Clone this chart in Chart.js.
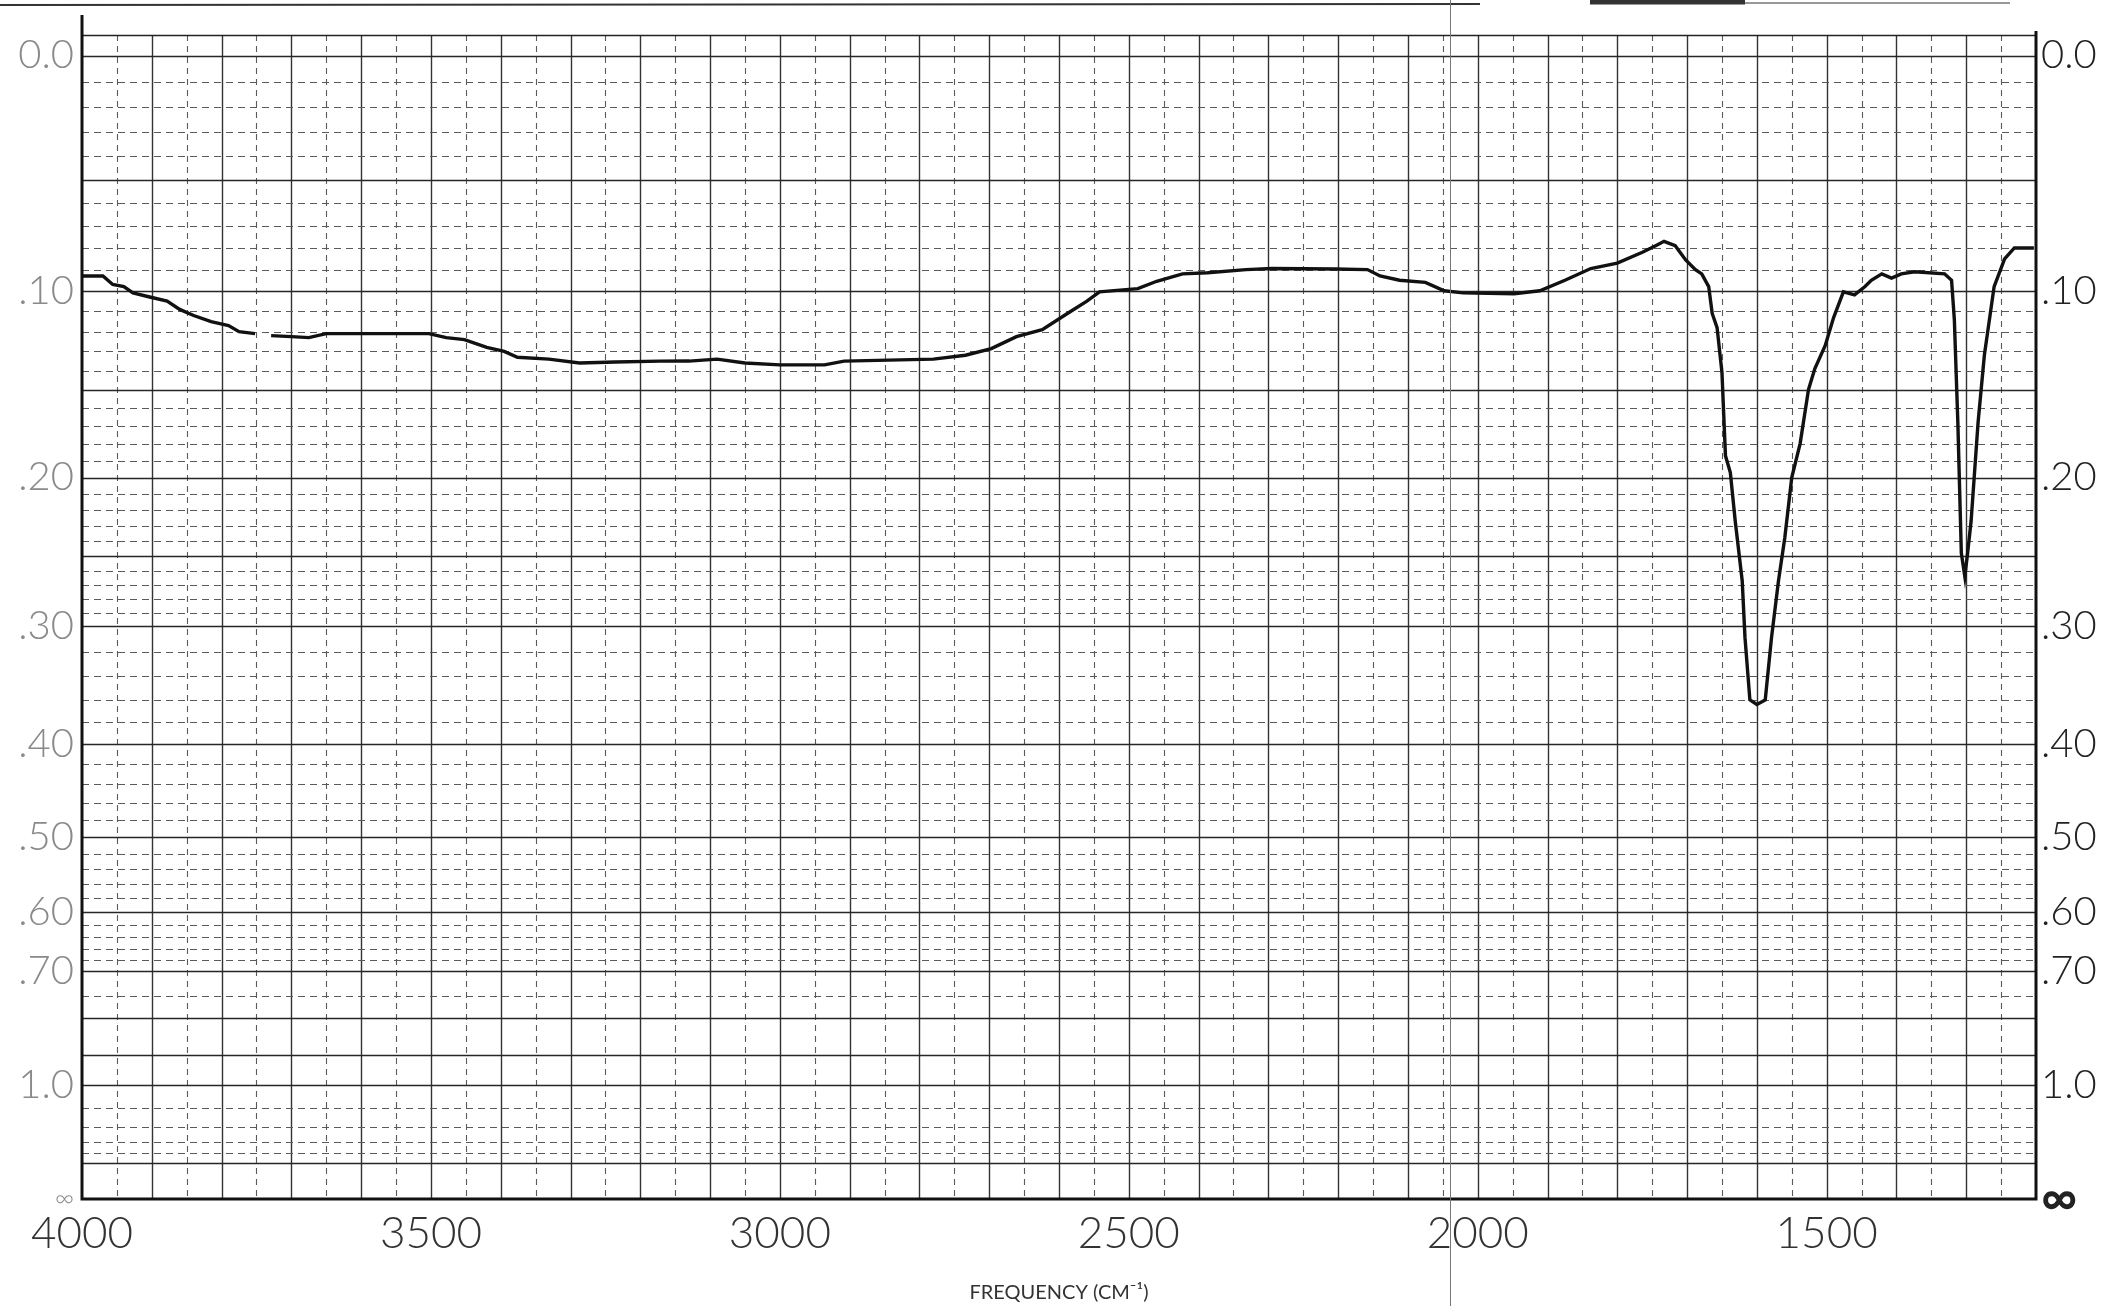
<!DOCTYPE html>
<html>
<head>
<meta charset="utf-8">
<title>IR spectrum</title>
<script src="https://cdn.jsdelivr.net/npm/chart.js@4.4.0/dist/chart.umd.min.js"></script>
<style>
  html, body { margin: 0; padding: 0; background: #fff; }
  #wrap { width: 2105px; height: 1306px; position: relative; }
</style>
</head>
<body>
<div id="wrap"><canvas id="irChart" width="2105" height="1306"></canvas></div>
<script>
// wavenumber (cm-1) and absorbance; null = gap in the pen trace
const wavenumbers = [
  4000, 3970, 3956, 3940, 3927, 3903, 3878, 3860, 3840, 3815, 3790, 3775, 3752, 3740,
  3729, 3700, 3675, 3650, 3600, 3550, 3503, 3478, 3452, 3420, 3395, 3376, 3331, 3287,
  3236, 3172, 3130, 3090, 3050, 3000, 2936, 2908, 2844, 2780, 2734, 2697, 2661, 2624,
  2588, 2560, 2542, 2487, 2460, 2423, 2387, 2332, 2295, 2204, 2158, 2140, 2112, 2075,
  2048, 2021, 1948, 1911, 1875, 1838, 1800, 1764, 1745, 1733, 1717, 1702, 1688, 1679,
  1669, 1664, 1657, 1650, 1645, 1638, 1631, 1621, 1617, 1610, 1600, 1588, 1579, 1569,
  1560, 1550, 1538, 1526, 1517, 1502, 1490, 1476, 1460, 1445, 1436, 1421, 1407, 1393,
  1374, 1331, 1321, 1317, 1312, 1307, 1302, 1298, 1293, 1283, 1274, 1260, 1245, 1231,
  1207, 1203
];
const absorbance = [
  0.093, 0.093, 0.097, 0.098, 0.101, 0.103, 0.105, 0.109, 0.112, 0.115, 0.117, 0.120, 0.121, null,
  0.122, 0.1225, 0.123, 0.121, 0.121, 0.121, 0.121, 0.123, 0.124, 0.128, 0.130, 0.133, 0.134, 0.136,
  0.1355, 0.135, 0.135, 0.134, 0.136, 0.137, 0.137, 0.135, 0.1345, 0.134, 0.132, 0.1286, 0.1225, 0.119,
  0.111, 0.105, 0.1005, 0.099, 0.0955, 0.092, 0.0915, 0.090, 0.0895, 0.0897, 0.090, 0.093, 0.095, 0.096,
  0.100, 0.101, 0.1014, 0.100, 0.095, 0.0895, 0.087, 0.082, 0.079, 0.077, 0.079, 0.0855, 0.090, 0.092,
  0.098, 0.111, 0.118, 0.141, 0.187, 0.197, 0.227, 0.267, 0.309, 0.360, 0.364, 0.360, 0.309, 0.267,
  0.238, 0.200, 0.180, 0.150, 0.139, 0.127, 0.113, 0.1005, 0.102, 0.098, 0.095, 0.092, 0.094, 0.092,
  0.091, 0.092, 0.095, 0.114, 0.168, 0.248, 0.264, 0.248, 0.227, 0.168, 0.132, 0.098, 0.085, 0.080,
  0.080, 0.080
];

const freqTicks = [4000, 3500, 3000, 2500, 2000, 1500];
const absTickValues = [0, 0.1, 0.2, 0.3, 0.4, 0.5, 0.6, 0.7, 1.0, Infinity];
const absTickLabels = ['0.0', '.10', '.20', '.30', '.40', '.50', '.60', '.70', '1.0', '\u221E'];

// chart paper rulings (absorbance, on a transmittance-linear axis)
const solidAbsLines = [0, 0.05, 0.10, 0.15, 0.20, 0.25, 0.30, 0.40, 0.50, 0.60, 0.70, 0.80, 0.90, 1.0, 1.5];
const dashedAbsLines = [];
for (let i = 1; i < 30; i++) if (i % 5 !== 0) dashedAbsLines.push(i / 100);
for (let a = 32; a < 70; a += 2) if (a % 10 !== 0) dashedAbsLines.push(a / 100);
dashedAbsLines.push(0.75, 1.1, 1.2, 1.3, 1.4);

const toT = a => (a === null ? null : Math.pow(10, -a));
const labelFont = 'Lato, "Liberation Sans", sans-serif';

const paperGrid = {
  id: 'paperGrid',
  beforeDatasetsDraw(chart) {
    const { ctx, chartArea: ca, scales: { x, y } } = chart;
    ctx.save();
    // vertical rulings every 50 cm-1
    for (let w = 1250; w < 4000; w += 50) {
      const px = Math.round(x.getPixelForValue(w)) + 0.5;
      const major = w % 100 === 0;
      ctx.beginPath();
      ctx.setLineDash(major ? [] : [6, 5]);
      ctx.lineWidth = major ? 1.4 : 1.1;
      ctx.strokeStyle = major ? '#333' : '#5a5a5a';
      ctx.moveTo(px, ca.top);
      ctx.lineTo(px, ca.bottom);
      ctx.stroke();
    }
    // horizontal dashed
    ctx.setLineDash([7, 5]);
    ctx.lineWidth = 1.1;
    ctx.strokeStyle = '#5a5a5a';
    dashedAbsLines.forEach(a => {
      const py = Math.round(y.getPixelForValue(toT(a))) + 0.5;
      ctx.beginPath();
      ctx.moveTo(ca.left, py);
      ctx.lineTo(ca.right, py);
      ctx.stroke();
    });
    // horizontal solid
    ctx.setLineDash([]);
    ctx.lineWidth = 1.7;
    ctx.strokeStyle = '#262626';
    solidAbsLines.forEach(a => {
      const py = Math.round(y.getPixelForValue(toT(a))) + 0.5;
      ctx.beginPath();
      ctx.moveTo(ca.left, py);
      ctx.lineTo(ca.right, py);
      ctx.stroke();
    });
    // frame
    ctx.lineWidth = 1.5;
    ctx.strokeStyle = '#222';
    ctx.beginPath();
    ctx.moveTo(ca.left, ca.top + 0.5);
    ctx.lineTo(ca.right, ca.top + 0.5);
    ctx.stroke();
    ctx.lineWidth = 3;
    ctx.strokeStyle = '#111';
    ctx.beginPath();
    ctx.moveTo(ca.left, ca.top - 20);
    ctx.lineTo(ca.left, ca.bottom);
    ctx.lineTo(ca.right, ca.bottom);
    ctx.lineTo(ca.right, ca.top - 4);
    ctx.stroke();
    ctx.restore();
  },
  afterDraw(chart) {
    const { ctx, width, height } = chart;
    ctx.save();
    // top edge of the sheet and the fold mark of the scan
    ctx.strokeStyle = '#333';
    ctx.lineWidth = 2;
    ctx.beginPath();
    ctx.moveTo(0, 5); ctx.lineTo(1480, 4);
    ctx.stroke();
    ctx.lineWidth = 1;
    ctx.beginPath();
    ctx.moveTo(1745, 3); ctx.lineTo(2010, 3);
    ctx.stroke();
    ctx.lineWidth = 5;
    ctx.beginPath();
    ctx.moveTo(1590, 2); ctx.lineTo(1745, 2);
    ctx.stroke();
    ctx.strokeStyle = '#777';
    ctx.lineWidth = 1;
    ctx.beginPath();
    ctx.moveTo(1450.5, 0); ctx.lineTo(1450.5, height);
    ctx.stroke();
    ctx.restore();
  }
};

function absAxis(position, color, width, pad) {
  return {
    type: 'linear',
    position: position,
    min: 0,
    max: 1.018,
    afterBuildTicks: s => { s.ticks = absTickValues.map(a => ({ value: Math.pow(10, -a) })); },
    afterFit: s => { s.width = width; },
    grid: { display: false, drawTicks: false },
    border: { display: false },
    ticks: {
      autoSkip: false,
      padding: pad,
      color: color,
      font: c => {
        const inf = c.index === absTickLabels.length - 1;
        if (inf) return { family: labelFont, size: position === 'left' ? 26 : 50, weight: position === 'left' ? '300' : 'bold' };
        return { family: labelFont, size: 40, weight: '300' };
      },
      callback: (v, i) => absTickLabels[i]
    }
  };
}

new Chart(document.getElementById('irChart'), {
  type: 'line',
  data: {
    datasets: [{
      data: wavenumbers.map((w, i) => ({ x: w, y: toT(absorbance[i]) })),
      borderColor: '#111',
      borderWidth: 3.4,
      pointRadius: 0,
      tension: 0,
      spanGaps: false
    }]
  },
  options: {
    responsive: false,
    animation: false,
    devicePixelRatio: 1,
    layout: { padding: { top: 33, left: 0, right: 0, bottom: 0 } },
    plugins: { legend: { display: false }, tooltip: { enabled: false } },
    scales: {
      x: {
        type: 'linear',
        reverse: true,
        min: 1200,
        max: 4000,
        afterBuildTicks: s => { s.ticks = freqTicks.map(v => ({ value: v })); },
        afterFit: s => { s.height = 107; },
        grid: { display: false, drawTicks: false },
        border: { display: false },
        ticks: {
          autoSkip: false,
          maxRotation: 0,
          padding: 8,
          color: '#333',
          font: { family: labelFont, size: 44, weight: '300' },
          callback: v => String(v)
        },
        title: {
          display: true,
          text: 'FREQUENCY (CM\u207B\u00B9)',
          color: '#333',
          font: { family: labelFont, size: 20 },
          padding: { top: 0, bottom: 1 }
        }
      },
      y: absAxis('left', '#8a8a8a', 82, 8),
      y2: absAxis('right', '#222', 69, 5)
    }
  },
  plugins: [paperGrid]
});
</script>
</body>
</html>
